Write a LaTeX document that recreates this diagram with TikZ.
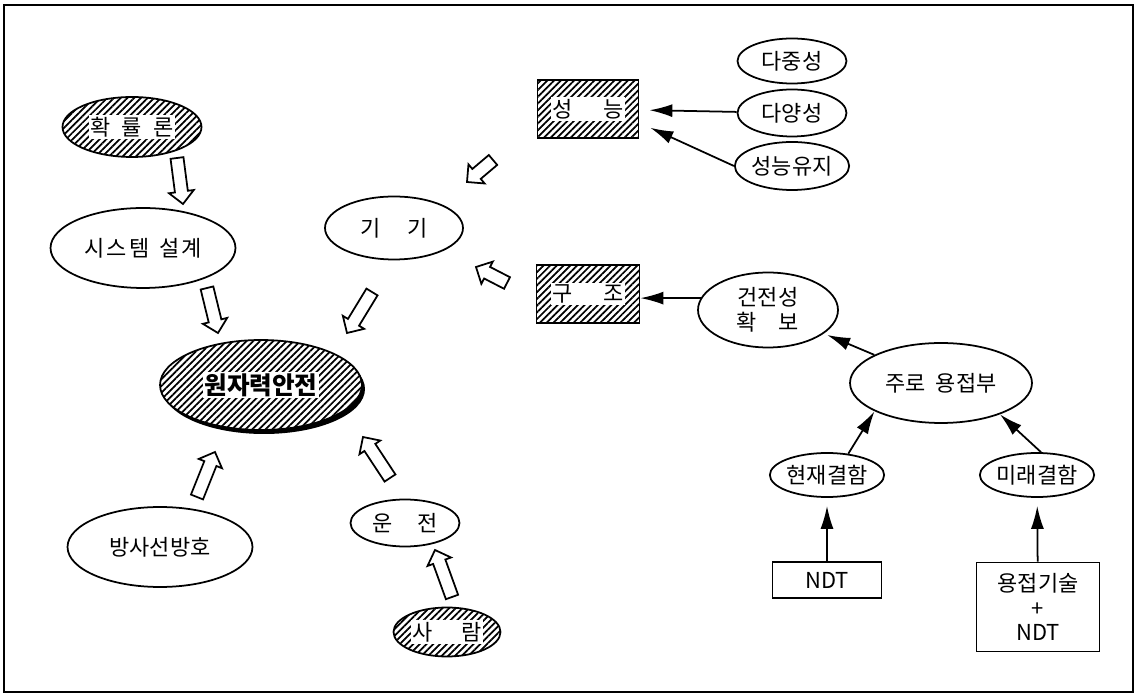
\documentclass[tikz,border=0pt]{standalone}
\usepackage{fontspec}
\setmainfont{Noto Sans CJK KR}
\usetikzlibrary{shapes.geometric,patterns.meta,shadows,calc,arrows.meta}

\tikzset{
  oval/.style={ellipse, draw, line width=1pt, inner sep=0pt},
  box/.style={rectangle, draw, line width=1pt, inner sep=0pt},
  hatched/.style={pattern={Lines[angle=45,distance=2.7pt,line width=1pt]}},
  txt/.style={fill=white, inner sep=1pt},
  arr/.style={-{Latex[length=0.46cm,width=0.26cm]}, line width=1pt},
  fatline/.style={draw, line width=1pt, fill=white, line join=miter}
}
% hollow block arrow from #1 to #2
\newcommand\fatarrow[2]{%
  \draw[fatline] let \p1=($(#2)-(#1)$), \n1={veclen(\x1,\y1)}, \n2={atan2(\y1,\x1)}, \n3={\n1-7.1} in
    ($(#1)+({\n2+90}:0.13cm)$) -- ($(#1)+({\n2+90}:0.13cm)+({\n2}:{\n3})$)
    -- ($(#1)+({\n2+90}:0.25cm)+({\n2}:{\n3})$) -- (#2)
    -- ($(#1)+({\n2-90}:0.25cm)+({\n2}:{\n3})$) -- ($(#1)+({\n2-90}:0.13cm)+({\n2}:{\n3})$)
    -- ($(#1)+({\n2-90}:0.13cm)$) -- cycle;}

\begin{document}
\begin{tikzpicture}[x=0.02cm, y=-0.02cm, font=\fontsize{12.5}{14}\selectfont]
            \useasboundingbox (0,0) rectangle (1140,695);

            % Frame
            \draw[line width=1.2pt] (4,5) rectangle (1133,692);

            % Left side
            \node[oval, hatched, minimum width=2.78cm, minimum height=1.2cm,
              label={[txt]center:확\hspace{0.5em}률\hspace{0.5em}론}] (hwak) at (132,127) {};
            \node[oval, minimum width=3.7cm, minimum height=1.6cm] (sys) at (143,248) {시\hspace{0.1em}스\hspace{0.1em}템\ \ 설\hspace{0.1em}계};
            \node[oval, minimum width=2.76cm, minimum height=1.26cm] (gigi) at (394,228) {기\hspace{1.2em}기};
            \node[oval, minimum width=4.04cm, minimum height=1.8cm,
              drop shadow={shadow xshift=0.6mm, shadow yshift=-0.8mm, fill=black, opacity=1},
              preaction={fill=white}, hatched,
              label={[txt, font=\fontsize{14}{16}\selectfont\bfseries]center:원자력안전}] (safe) at (261,385) {};
            \node[oval, minimum width=3.7cm, minimum height=1.6cm] (bang) at (160,547) {방사선방호};
            \node[oval, minimum width=2.18cm, minimum height=0.94cm] (unjeon) at (405,523) {운\hspace{1.1em}전};
            \node[oval, hatched, minimum width=2.14cm, minimum height=0.98cm,
              label={[txt]center:사\hspace{1.3em}람}] (saram) at (447,632) {};

            % Performance and structure
            \node[box, hatched, minimum width=2.02cm, minimum height=1.16cm,
              label={[txt]center:성\hspace{1.4em}능}] (neung) at (588,109) {};
            \node[box, hatched, minimum width=2.06cm, minimum height=1.16cm,
              label={[txt]center:구\hspace{1.4em}조}] (gujo) at (588,294) {};
            \node[oval, minimum width=2.18cm, minimum height=0.9cm] (dajung) at (792,61) {다중성};
            \node[oval, minimum width=2.18cm, minimum height=0.94cm] (dayang) at (792,113) {다양성};
            \node[oval, minimum width=2.18cm, minimum height=0.96cm] (yuji) at (792,166) {성능유지};

            % Welds
            \node[oval, minimum width=2.8cm, minimum height=1.5cm, align=center] (geon) at (768,310) {건전성\\확\hspace{1em}보};
            \node[oval, minimum width=3.64cm, minimum height=1.6cm] (juro) at (941,383) {주로\ \ 용접부};
            \node[oval, minimum width=2.2cm, minimum height=0.88cm] (hyeon) at (827,475) {현재결함};
            \node[oval, minimum width=2.2cm, minimum height=0.88cm] (mirae) at (1037,475) {미래결함};
            \node[box, minimum width=2.18cm, minimum height=0.72cm] (ndt) at (827,580) {NDT};
            \node[box, minimum width=2.46cm, minimum height=1.78cm, align=center] (yong) at (1038,607) {용접기술\\+\\NDT};

            % Black arrows
            \draw[arr, shorten >=0.2cm] (dayang) -- (neung);
            \draw[arr, shorten >=0.24cm] (yuji.west) -- (neung.-15);
            \draw[arr] (geon.170) -- (geon.170 -| gujo.east);
            \draw[arr, shorten >=2pt] (juro) -- (geon);
            \draw[arr] (hyeon.45) -- (juro.-157);
            \draw[arr] (mirae.80) -- (juro.-28);
            \draw[arr, shorten >=0.16cm] (ndt) -- (hyeon);
            \draw[arr, shorten >=0.16cm] (yong) -- (mirae);

            % Hollow arrows
            \coordinate (f1a) at (177,158); \coordinate (f1b) at (183,204);
            \coordinate (f2a) at (207,288); \coordinate (f2b) at (218,333);
            \coordinate (f3a) at (372,292); \coordinate (f3b) at (347,333);
            \coordinate (f4a) at (493,160); \coordinate (f4b) at (467,182);
            \coordinate (f5a) at (507,283); \coordinate (f5b) at (476,267);
            \coordinate (f6a) at (197,497); \coordinate (f6b) at (215,452);
            \coordinate (f7a) at (390,478); \coordinate (f7b) at (363,437);
            \coordinate (f8a) at (452,597); \coordinate (f8b) at (435,550);
            \fatarrow{f1a}{f1b}
            \fatarrow{f2a}{f2b}
            \fatarrow{f3a}{f3b}
            \fatarrow{f4a}{f4b}
            \fatarrow{f5a}{f5b}
            \fatarrow{f6a}{f6b}
            \fatarrow{f7a}{f7b}
            \fatarrow{f8a}{f8b}
        \end{tikzpicture}
\end{document}
